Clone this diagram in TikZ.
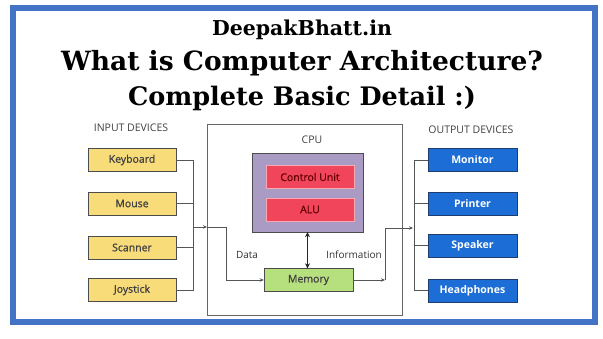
\documentclass[tikz,border=0pt]{standalone}
\usepackage{fontspec}
\setmainfont{DejaVu Serif}
\setsansfont{Open Sans}
\newfontfamily\medsans{Open Sans}[FakeBold=0.8]
\usepackage{tikz}
\usetikzlibrary{arrows.meta, positioning}
\definecolor{framecol}{HTML}{4472C4}
\definecolor{inputfill}{HTML}{F8DC7A}
\definecolor{corefill}{HTML}{A99BC3}
\definecolor{unitfill}{HTML}{F0455A}
\definecolor{unitedge}{HTML}{F7A8B2}
\definecolor{memfill}{HTML}{B6E07E}
\definecolor{outputfill}{HTML}{1C6DD6}
\definecolor{outputedge}{HTML}{1E3E6E}
\definecolor{linecol}{HTML}{555555}
\tikzset{
  titletext/.style={font=\bfseries, text=black, inner sep=0pt},
  headlabel/.style={font=\sffamily\fontsize{10.5}{12}\selectfont, text=black!75},
  buslabel/.style={font=\sffamily\fontsize{10}{12}\selectfont, text=black!80},
  devbox/.style={
    draw, thin, minimum width=88pt, minimum height=23pt, inner sep=0pt,
    font=\medsans\fontsize{10.5}{12}\selectfont
  },
  inputbox/.style={devbox, fill=inputfill, draw=black!70, text=black!75},
  outputbox/.style={devbox, fill=outputfill, draw=outputedge, text=white, font=\sffamily\bfseries\fontsize{10.5}{12}\selectfont},
  unitbox/.style={devbox, fill=unitfill, draw=unitedge, line width=1pt, text=black!60!red},
  memorybox/.style={devbox, fill=memfill, draw=black!70, text=black!75},
  busline/.style={draw=linecol, line width=0.9pt},
  busarrow/.style={busline, -{Stealth[length=4pt, width=3.5pt]}},
  linkarrow/.style={{Stealth[length=5pt, width=5pt]}-{Stealth[length=5pt, width=5pt]}, line width=1.2pt, black!85},
}
\begin{document}
\begin{tikzpicture}[x=1pt, y=-1pt]
  \useasboundingbox (0,0) rectangle (603,338);

  % --- Frame and title ---
  \draw[line width=6pt, framecol] (13,8) rectangle (595,322);
  \node[titletext, font=\bfseries\fontsize{20.5}{24}\selectfont] (site) at (302,30) {DeepakBhatt.in};
  \node[titletext, font=\bfseries\fontsize{26.5}{30}\selectfont] (title) at (302,63) {What is Computer Architecture?};
  \node[titletext, font=\bfseries\fontsize{25.5}{30}\selectfont] (subtitle) at (302,98) {Complete Basic Detail :)};

  % --- Input devices ---
  \node[headlabel] (inhead) at (131,128) {INPUT DEVICES};
  \node[inputbox] (keyb) at (132,160) {Keyboard};
  \node[inputbox] (mouse) at (132,203.5) {Mouse};
  \node[inputbox] (scan) at (132,247.5) {Scanner};
  \node[inputbox] (joy) at (132,290) {Joystick};
  \coordinate (inbar) at (193,0);

  % --- CPU ---
  \node[draw=black!60, line width=1pt, minimum width=195pt, minimum height=191pt] (cpu) at (304.5,219.5) {};
  \node[headlabel] (cpuhead) at (312,140) {CPU};
  \node[draw=black!70, thin, fill=corefill, minimum width=111pt, minimum height=79pt] (core) at (307.5,192.5) {};
  \node[unitbox] (cu) at (310,177) {Control Unit};
  \node[unitbox] (alu) at (310,209.5) {ALU};
  \node[memorybox, minimum width=89pt] (mem) at (308.5,280) {Memory};
  \node[buslabel] (datalbl) at (247,255) {Data};
  \node[buslabel] (infolbl) at (354,255) {Information};
  \coordinate (datain) at (207,227);
  \coordinate (dataout) at (385,280);
  \coordinate (outjoin) at (413,228);

  % --- Output devices ---
  \node[headlabel] (outhead) at (471,130) {OUTPUT DEVICES};
  \node[outputbox, minimum width=89pt] (mon) at (472.5,160) {Monitor};
  \node[outputbox, minimum width=89pt] (prn) at (472.5,203.5) {Printer};
  \node[outputbox, minimum width=89pt] (spk) at (472.5,245.5) {Speaker};
  \node[outputbox, minimum width=89pt] (head) at (472.5,290.5) {Headphones};
  \coordinate (outbar) at (414,0);

  % --- Connectors ---
  \draw[busline] (keyb.east) -| (inbar |- joy.east) -- (joy.east);
  \draw[busline] (mouse.east) -- (mouse.east -| inbar);
  \draw[busline] (scan.east) -- (scan.east -| inbar);
  \draw[busarrow] (inbar |- datain) -- (datain);
  \draw[busarrow] (datain) -- ++(19,0) |- (mem.west);
  \draw[linkarrow] (core.south) -- (mem.north -| core.south);
  \draw[busarrow] (mem.east) -- (dataout);
  \draw[busarrow] (dataout) |- (outjoin);
  \draw[busline] (mon.west) -| (outbar |- head.west) -- (head.west);
  \draw[busline] (prn.west) -- (prn.west -| outbar);
  \draw[busline] (spk.west) -- (spk.west -| outbar);

\end{tikzpicture}
\end{document}
